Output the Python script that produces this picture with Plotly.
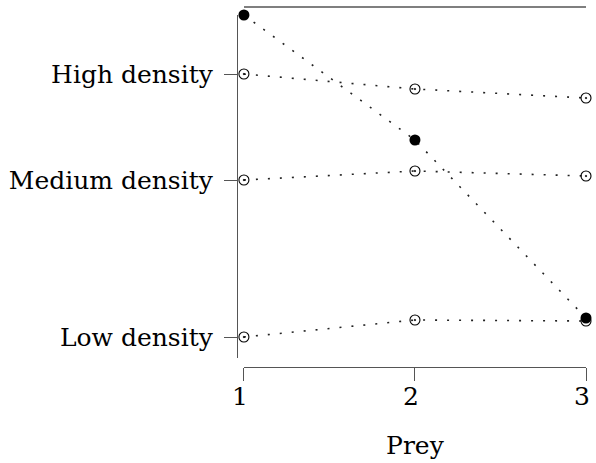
import plotly.graph_objects as go

prey = [1, 2, 3]
high = [3.63, 3.48, 3.39]
medium = [2.57, 2.66, 2.61]
low = [1.00, 1.17, 1.16]
filled = [4.22, 2.97, 1.19]
ytick_vals = [1.00, 2.57, 3.63]
ytick_text = ["Low density", "Medium density", "High density"]

W, H = 596, 463
ml, mr, mt, mb = 237, 6, 15, 96
pw = W - ml - mr
ph = H - mt - mb

font = dict(family="DejaVu Serif", size=25, color="black")
dotline = dict(color="#222222", width=1.6, dash="2px,10px")

fig = go.Figure()
for ys in (high, medium, low):
    fig.add_trace(go.Scatter(
        x=prey, y=ys, mode="lines+markers", cliponaxis=False,
        line=dotline,
        marker=dict(symbol="circle-open-dot", size=10, color="black",
                    line=dict(width=1.1, color="black")),
        showlegend=False))
fig.add_trace(go.Scatter(
    x=prey, y=filled, mode="lines+markers", cliponaxis=False,
    line=dotline,
    marker=dict(symbol="circle", size=11, color="black"),
    showlegend=False))

# top rule
fig.add_shape(type="line", xref="x", yref="paper", x0=1, x1=3,
              y0=1 + 8 / ph, y1=1 + 8 / ph,
              line=dict(color="black", width=1.2))

fig.update_layout(
    width=W, height=H,
    margin=dict(l=ml, r=mr, t=mt, b=mb, pad=0),
    plot_bgcolor="white", paper_bgcolor="white",
    font=font,
    xaxis=dict(domain=[7 / pw, 1], range=[1, 3], anchor="free", position=0,
               tickvals=prey, ticktext=[str(v) for v in prey],
               showline=True, linecolor="#555555", linewidth=1.3,
               ticks="outside", ticklen=13, tickwidth=1.3, tickcolor="#555555",
               ticklabelstandoff=-6, ticklabelshift=-4,
               showgrid=False, zeroline=False,
               title=dict(text="Prey", font=font, standoff=26)),
    yaxis=dict(domain=[9 / ph, 1], range=[0.79, 4.22], anchor="free", position=0,
               tickvals=ytick_vals, ticktext=ytick_text,
               showline=True, linecolor="#555555", linewidth=1.3,
               ticks="outside", ticklen=13, tickwidth=1.3, tickcolor="#555555",
               ticklabelstandoff=6,
               showgrid=False, zeroline=False),
)

fig.write_html(
    "out.html", config={"displayModeBar": False},
    post_script=("document.body.style.margin='0';document.body.style.padding='0';"
                 "document.body.style.overflow='hidden';"
                 "document.documentElement.style.overflow='hidden';"))
